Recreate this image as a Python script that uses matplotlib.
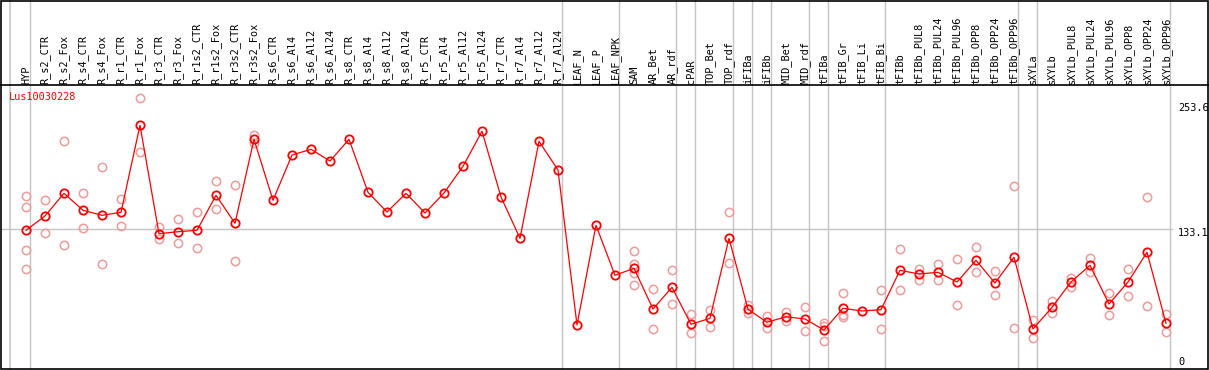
import matplotlib
matplotlib.use('Agg')
import matplotlib.pyplot as plt
from matplotlib.patches import Rectangle

# sample names (x categories)
samples = ['HYP', 'R_s2_CTR', 'R_s2_Fox', 'R_s4_CTR', 'R_s4_Fox', 'R_r1_CTR', 'R_r1_Fox',
           'R_r3_CTR', 'R_r3_Fox', 'R_r1s2_CTR', 'R_r1s2_Fox', 'R_r3s2_CTR', 'R_r3s2_Fox',
           'R_s6_CTR', 'R_s6_Al4', 'R_s6_Al12', 'R_s6_Al24', 'R_s8_CTR', 'R_s8_Al4',
           'R_s8_Al12', 'R_s8_Al24', 'R_r5_CTR', 'R_r5_Al4', 'R_r5_Al12', 'R_r5_Al24',
           'R_r7_CTR', 'R_r7_Al4', 'R_r7_Al12', 'R_r7_Al24', 'LEAF_N', 'LEAF_P', 'LEAF_NPK',
           'SAM', 'AR_Bet', 'AR_rdf', 'cPAR', 'TOP_Bet', 'TOP_rdf', 'iFIBa', 'iFIBb',
           'MID_Bet', 'MID_rdf', 'tFIBa', 'tFIB_Gr', 'tFIB_Li', 'tFIB_Bi', 'tFIBb',
           'tFIBb_PUL8', 'tFIBb_PUL24', 'tFIBb_PUL96', 'tFIBb_OPP8', 'tFIBb_OPP24',
           'tFIBb_OPP96', 'sXYLa', 'sXYLb', 'sXYLb_PUL8', 'sXYLb_PUL24', 'sXYLb_PUL96',
           'sXYLb_OPP8', 'sXYLb_OPP24', 'sXYLb_OPP96']

# mean expression per sample
means = [131.7, 146, 168.7, 151.7, 146.7, 149.7, 236.7, 128.3, 130.3, 131.7, 166.7, 138.7, 222.7,
         161.7, 207, 212.7, 201, 222.7, 169.7, 150, 168.7, 149, 169, 195.7, 230.7, 165, 123.7,
         220.7, 192, 37, 136.7, 86.7,
         93.7, 53, 74.7, 37.7, 43.7, 123.7, 52.7, 39.7, 45.3, 43, 32, 53.7, 51, 52.3,
         91.7, 88, 89.7, 80, 101.7, 79, 104.7,
         33, 54.7, 80, 96.7, 58, 80, 109.7, 38.7]

# individual replicates
replicates = [[165.7, 154.7, 112.3, 93.3], [161.7, 128.7], [221, 116.7], [168.7, 133.7],
              [194.7, 97.7], [163, 136.3], [263.7, 209.7], [135, 122.7], [143, 118.7],
              [149.7, 113.7], [181, 152.7], [176.7, 100.7], [227, 218.7],
              [], [], [], [], [], [], [], [], [], [], [], [], [], [], [], [],
              [], [], [],
              [110.7, 98.3, 89.3, 76.7], [72.7, 33], [91.7, 57.7], [47.7, 28.7], [52, 35.3],
              [149.7, 98.7], [57.3, 48.7], [46, 33.7], [50.3, 41.3], [54.7, 30.7],
              [39, 36.3, 20.7], [68.7, 47, 44.7], [], [72, 33],
              [112.7, 72], [93, 82], [98, 82], [102.7, 56.7], [114.7, 89.7], [90.7, 66.7],
              [175.7, 33.7],
              [42, 23.7], [61, 49.3], [84.3, 75.3], [103.7, 90], [68.7, 46.7], [92.7, 65.7],
              [164.7, 55.7], [47.7, 29.7]]

# index of last sample in each group (separator drawn after it)
group_ends = [0, 28, 31, 34, 35, 37, 38, 39, 41, 42, 45, 52, 53, 60]
ytick_vals = [253.6, 133.1, 0]
gene = 'Lus10030228'

# layout in pixels
W, H = 1209, 370
X0, STEP = 26, 19      # pixel x of first sample, spacing
Y0 = 362               # pixel y of value 0
HEADER = 85            # pixel y of header separator

mono = 'DejaVu Sans Mono'
grey = '#c4c4c4'
red = '#ff0000'
pink = '#f09a9a'

fig = plt.figure(figsize=(W / 100, H / 100), dpi=100)
ax = fig.add_axes([0, 0, 1, 1])
ax.set_xlim(-X0 / STEP, (W - X0) / STEP)
ax.set_ylim(Y0 - H, Y0)
ax.axis('off')

xs = list(range(len(samples)))

# separators
ax.axvline(-0.82, color=grey, lw=1.1, zorder=1)
for k in group_ends:
    ax.axvline(k + 0.23, color=grey, lw=1, zorder=1)
ax.axhline(ytick_vals[1], xmax=1172 / W, color=grey, lw=1, zorder=1)
ax.axhline(Y0 - HEADER, color='black', lw=1.2, zorder=3)

# replicates
for i, reps in enumerate(replicates):
    if reps:
        ax.plot([i] * len(reps), reps, 'o', ms=6, mfc='none', mec=pink, mew=1.1, zorder=2)

# mean line
ax.plot(xs, means, '-', color=red, lw=0.9, zorder=4)
ax.plot(xs, means, 'o', ms=6, mfc='none', mec=red, mew=1.3, zorder=5)

# header labels
for i, s in enumerate(samples):
    ax.text(i, Y0 - HEADER + 1.5, s, rotation=90, ha='center', va='bottom',
            family=mono, fontsize=7.4, color='black')

# right axis labels
xl = (1178 - X0) / STEP
ax.text(xl, ytick_vals[0], '253.6', ha='left', va='center', family=mono, fontsize=7.4)
ax.text(xl, ytick_vals[1] - 4, '133.1', ha='left', va='center', family=mono, fontsize=7.4)
ax.text(xl, ytick_vals[2], '0', ha='left', va='center', family=mono, fontsize=7.4)

# gene title
ax.text((9 - X0) / STEP, Y0 - 97, gene, ha='left', va='center', family=mono,
        fontsize=7.4, color=red)

fig.patches.append(Rectangle((1 / W, 1 / H), (W - 2) / W, (H - 1.5) / H, fill=False,
                             ec='black', lw=1.2, transform=fig.transFigure, figure=fig))

fig.savefig('out.png', dpi=100)
plt.close(fig)
